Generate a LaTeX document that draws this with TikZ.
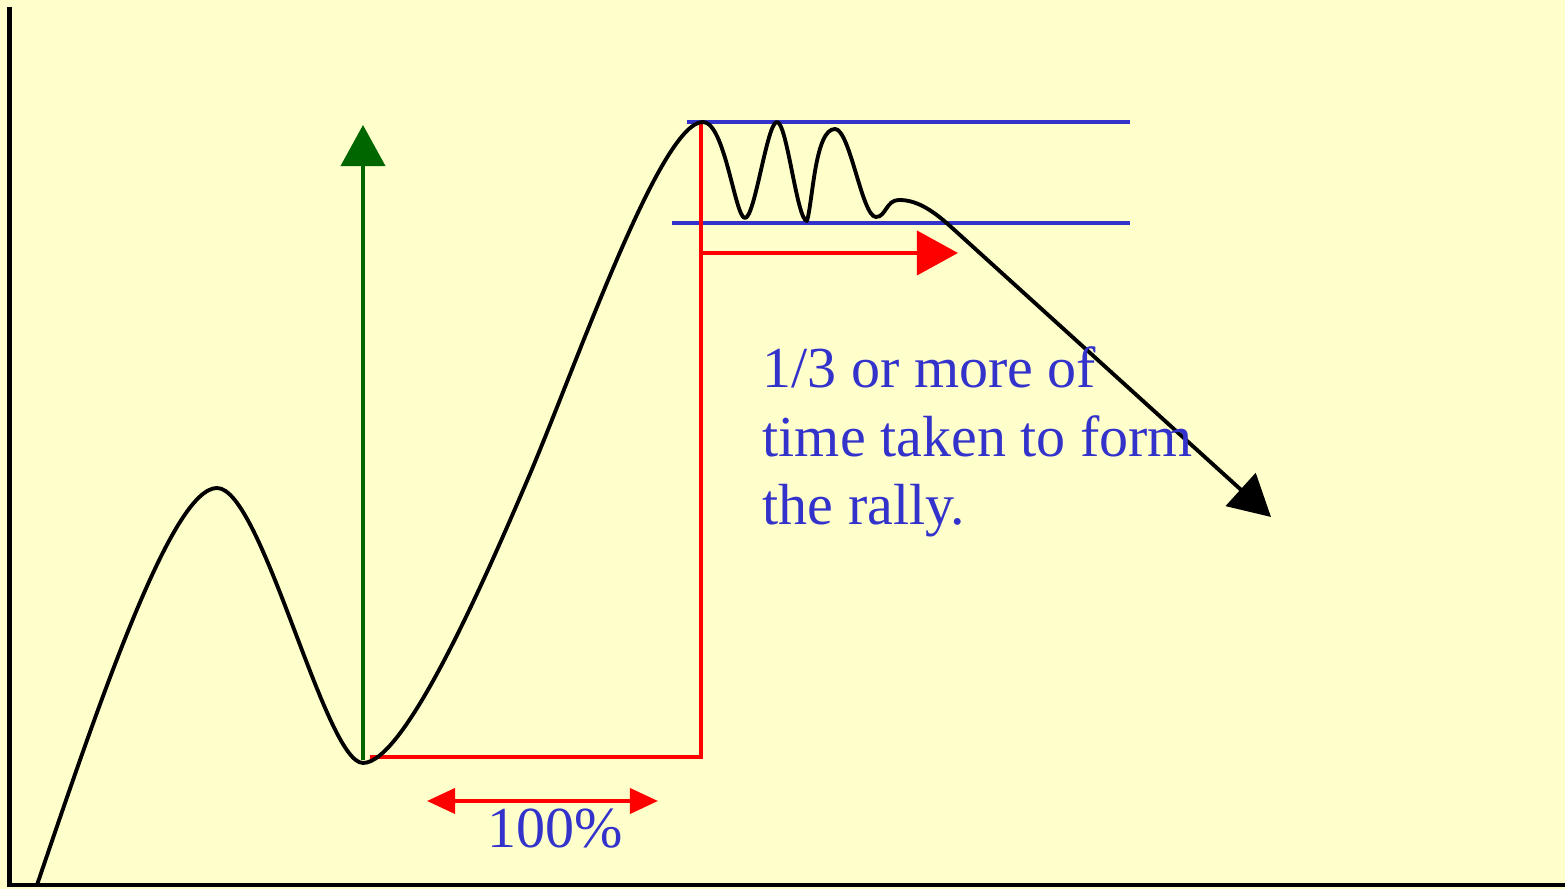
\documentclass[tikz,border=0pt]{standalone}
\usepackage{fontspec}
\setmainfont{Liberation Serif}
\usetikzlibrary{arrows.meta}

\definecolor{chartbg}{HTML}{FFFFCC}
\definecolor{chartblue}{HTML}{3333CC}
\definecolor{chartgreen}{HTML}{006600}

\begin{document}
\begin{tikzpicture}[x=0.01cm, y=-0.01cm,
        price/.style={draw=black, line width=1.1pt, line join=round},
        band/.style={draw=chartblue, line width=0.9pt},
        redline/.style={draw=red, line width=1.1pt},
        bigtip/.style={-{Triangle[length=0.41cm, width=0.44cm]}},
        smalltip/.style={{Triangle[length=0.28cm, width=0.25cm]}-{Triangle[length=0.28cm, width=0.25cm]}},
        bluetext/.style={text=chartblue, inner sep=0pt, font=\fontsize{16.5pt}{19.6pt}\selectfont}]
        \useasboundingbox (0,0) rectangle (1565,889);
        \fill[chartbg] (0,0) rectangle (1565,889);

	% axes
	\draw[draw=black, line width=1.2pt] (9.50,7.00) -- (9.50,885.00) -- (1565.00,885.00);

	% resistance band
	\draw[band] (687.00,122.00) -- (1130.00,122.00);
	\draw[band] (672.00,223.00) -- (1130.00,223.00);

	% rally time and run-out time
	\draw[redline] (370.00,757.00) -- (701.00,757.00) -- (701.00,122.00);
	\draw[redline, bigtip] (701.00,253.00) -- (958.00,253.00);
	\draw[redline, smalltip] (427.00,801.00) -- (658.00,801.00);

	% rally height
	\draw[draw=chartgreen, line width=1.1pt, bigtip] (363.00,760.00) -- (363.00,125.00);

	% price
	\draw[price, bigtip] (37.00,885.00)
        .. controls (100.00,700.00) and (172.00,488.00) .. (217.00,488.00)
        .. controls (262.00,488.00) and (325.00,763.00) .. (363.00,763.00)
        .. controls (405.00,763.00) and (485.00,579.00) .. (527.00,481.00)
        .. controls (575.00,369.00) and (660.00,122.00) .. (703.00,122.00)
        .. controls (725.00,122.00) and (735.00,218.00) .. (745.00,218.00)
        .. controls (755.00,218.00) and (767.00,122.00) .. (777.00,122.00)
        .. controls (787.00,122.00) and (797.00,221.00) .. (807.00,221.00)
        .. controls (813.00,200.00) and (815.00,129.00) .. (835.00,129.00)
        .. controls (850.00,129.00) and (862.00,217.00) .. (876.00,217.00)
        .. controls (886.00,217.00) and (886.00,200.00) .. (899.00,200.00)
        .. controls (915.00,200.00) and (930.00,208.00) .. (950.00,226.00)
        -- (1271.00,517.00);

	\node[bluetext, anchor=base west, align=left] (note) at (762,525) {1/3 or more of\\time taken to form\\the rally.};

	\node[bluetext, anchor=base] (pct) at (555,848) {100\%};

\end{tikzpicture}
\end{document}
